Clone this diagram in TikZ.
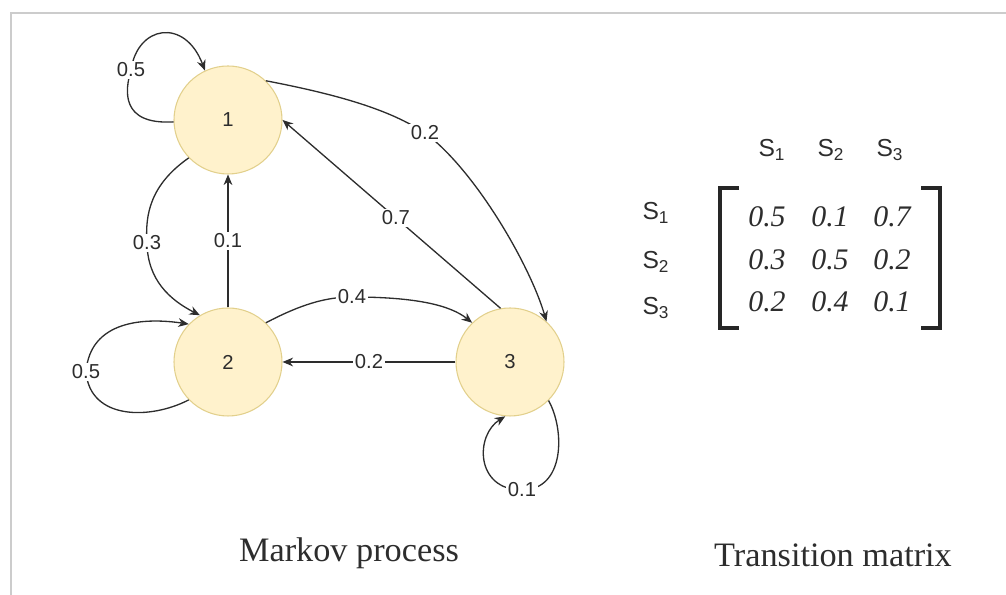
\documentclass[tikz,border=0pt]{standalone}
\usepackage{fontspec}
\setmainfont{Liberation Serif}
\setsansfont{Liberation Sans}
\usetikzlibrary{arrows.meta}
\definecolor{stfill}{RGB}{255,242,204}
\definecolor{stline}{RGB}{226,208,140}
\definecolor{edgec}{RGB}{45,45,45}
\begin{document}
\begin{tikzpicture}[
	>={Stealth[length=6pt,width=5pt]},
	state/.style={circle, fill=stfill, draw=stline, line width=0.6pt, minimum size=2.16cm, font=\sffamily\fontsize{11.5}{13}\selectfont, text=edgec},
	edge/.style={->, draw=edgec, line width=0.75pt},
	lbl/.style={fill=white, inner sep=1pt, font=\sffamily\fontsize{11.5}{13}\selectfont, text=edgec},
	hdr/.style={font=\sffamily\fontsize{14}{16}\selectfont, text=edgec},
	entry/.style={font=\fontsize{17}{20}\selectfont\itshape, text=edgec},
	caption/.style={font=\fontsize{19.5}{22}\selectfont, text=edgec},
	brk/.style={draw=black!85, line width=2.8pt}]
	\useasboundingbox (0,0) rectangle (20.12,11.9);
	\draw[gray!40, line width=1pt] (0.22,0) -- (0.22,11.64) -- (20.12,11.64);

	\node[state] (n1) at (4.56, 9.5) {1};
	\node[state] (n2) at (4.56, 4.66) {2};
	\node[state] (n3) at (10.2, 4.66) {3};

	\draw[edge] (n1.182) .. controls (2.4,9.4) and (2.5,10.1) .. (2.62,10.5) node[lbl] {0.5} .. controls (2.75,11.4) and (3.7,11.55) .. (n1.115);
	\draw[edge] (n1.46) .. controls (6.8,10.0) and (7.8,9.7) .. (8.5,9.24) node[lbl] {0.2} .. controls (9.5,8.5) and (10.6,6.6) .. (n3.48);
	\draw[edge] (n3.100) -- (n1.east) node[lbl,pos=0.48] {0.7};
	\draw[edge] (n1.224) .. controls (3.0,8.2) and (2.9,7.6) .. (2.94,7.04) node[lbl] {0.3} .. controls (2.95,6.3) and (3.4,5.9) .. (n2.121);
	\draw[edge] (n2) -- (n1) node[lbl,midway] {0.1};
	\draw[edge] (n2.46) .. controls (6.0,5.8) and (6.5,5.96) .. (7.04,5.96) node[lbl] {0.4} .. controls (8.3,5.96) and (9.0,5.8) .. (n3.134);
	\draw[edge] (n3) -- (n2) node[lbl,midway] {0.2};
	\draw[edge] (n2.224) .. controls (3.0,3.5) and (1.8,3.5) .. (1.72,4.46) node[lbl] {0.5} .. controls (1.8,5.5) and (2.9,5.55) .. (n2.136);
	\draw[edge] (n3.315) .. controls (11.3,3.3) and (11.3,2.1) .. (10.44,2.1) node[lbl] {0.1} .. controls (9.5,2.1) and (9.5,3.2) .. (n3.265);

	% transition matrix
	\node[hdr] (c1) at (15.44, 8.9) {S\textsubscript{1}};
	\node[hdr] (c2) at (16.62, 8.9) {S\textsubscript{2}};
	\node[hdr] (c3) at (17.8, 8.9) {S\textsubscript{3}};
	\node[hdr] (r1) at (13.12, 7.64) {S\textsubscript{1}};
	\node[hdr] (r2) at (13.12, 6.66) {S\textsubscript{2}};
	\node[hdr] (r3) at (13.12, 5.74) {S\textsubscript{3}};

	\node[entry] (m11) at (15.34, 7.56) {0.5};
	\node[entry] (m12) at (16.6, 7.56) {0.1};
	\node[entry] (m13) at (17.84, 7.56) {0.7};
	\node[entry] (m21) at (15.34, 6.7) {0.3};
	\node[entry] (m22) at (16.6, 6.7) {0.5};
	\node[entry] (m23) at (17.84, 6.7) {0.2};
	\node[entry] (m31) at (15.34, 5.86) {0.2};
	\node[entry] (m32) at (16.6, 5.86) {0.4};
	\node[entry] (m33) at (17.84, 5.86) {0.1};

	\draw[brk] (14.78,8.14) -- (14.4,8.14) -- (14.4,5.34) -- (14.78,5.34);
	\draw[brk] (18.42,8.14) -- (18.8,8.14) -- (18.8,5.34) -- (18.42,5.34);

	\node[caption] (cap1) at (6.98, 0.84) {Markov process};
	\node[caption] (cap2) at (16.66, 0.8) {Transition matrix};
\end{tikzpicture}
\end{document}
